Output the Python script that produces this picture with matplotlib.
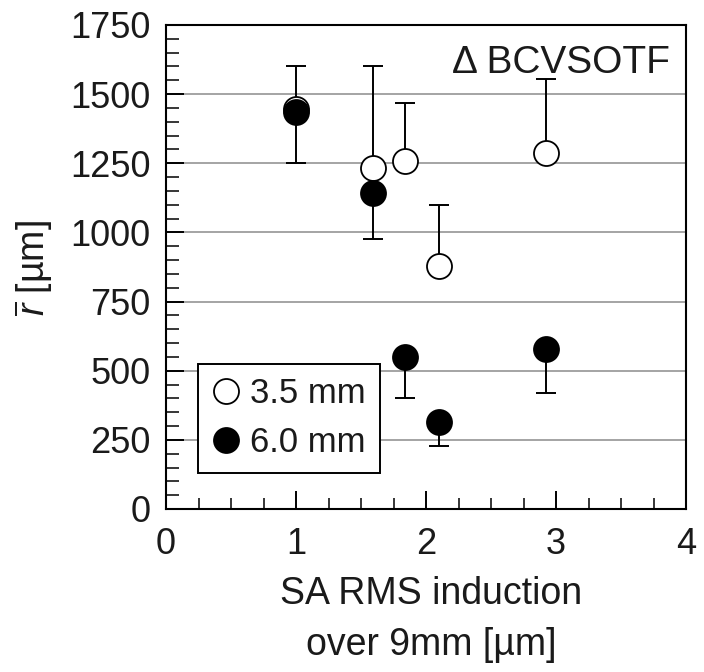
import matplotlib
matplotlib.use("Agg")
import matplotlib.pyplot as plt
from matplotlib.ticker import MultipleLocator

plt.rcParams['font.family'] = ['Liberation Sans', 'DejaVu Sans']
plt.rcParams['mathtext.fontset'] = 'custom'
plt.rcParams['mathtext.it'] = 'Liberation Sans:italic'
plt.rcParams['mathtext.rm'] = 'Liberation Sans'

# 3.5 mm pupil (open circles, error bars upward)
x_35 = [1.00, 1.59, 1.835, 2.10, 2.92]
y_35 = [1448, 1232, 1260, 880, 1286]
err_35 = [152, 368, 207, 219, 268]

# 6.0 mm pupil (filled circles, error bars downward)
x_60 = [1.00, 1.59, 1.835, 2.10, 2.92]
y_60 = [1435, 1141, 548, 314, 578]
err_60 = [185, 165, 145, 88, 158]

fig = plt.figure(figsize=(7.04, 6.72), dpi=100)
# axes box: x 166..686 px, y 25..509 px
ax = fig.add_axes([166 / 704, 1 - 509 / 672, 520 / 704, 484 / 672])

ax.yaxis.grid(True, color='#8c8c8c', linewidth=1.1)
ax.set_axisbelow(True)

ax.errorbar(x_35, y_35, yerr=[[0] * len(err_35), err_35], fmt='none',
            ecolor='black', elinewidth=1.4, capsize=7, capthick=1.4, zorder=2)
ax.errorbar(x_60, y_60, yerr=[err_60, [0] * len(err_60)], fmt='none',
            ecolor='black', elinewidth=1.4, capsize=7, capthick=1.4, zorder=2)

ax.plot(x_35, y_35, 'o', ms=18, mfc='white', mec='black', mew=1.3,
        linestyle='none', label='3.5 mm', zorder=3)
ax.plot(x_60, y_60, 'o', ms=18, mfc='black', mec='black', mew=1.3,
        linestyle='none', label='6.0 mm', zorder=4)

ax.set_xlim(0, 4)
ax.set_ylim(0, 1750)
ax.xaxis.set_major_locator(MultipleLocator(1))
ax.xaxis.set_minor_locator(MultipleLocator(0.25))
ax.yaxis.set_major_locator(MultipleLocator(250))
ax.yaxis.set_minor_locator(MultipleLocator(50))
ax.tick_params(which='major', direction='in', length=13, width=1.4,
               labelsize=26, labelcolor='#1a1a1a')
ax.tick_params(axis='x', which='major', pad=13)
ax.tick_params(axis='y', which='major', pad=11)
ax.tick_params(axis='x', which='minor', direction='in', length=8, width=1.1)
ax.tick_params(axis='y', which='minor', direction='in', length=9.5, width=1.1)
for s in ax.spines.values():
    s.set_linewidth(1.5)

ax.set_xlabel('SA RMS induction\nover 9mm [µm]', fontsize=27, labelpad=10,
              linespacing=1.55, color='#1a1a1a')
ax.xaxis.label.set_x(0.51)
fig.text(34 / 704, 1 - 268 / 672, r'$\overline{r}$ [µm]', fontsize=27,
         rotation=90, ha='center', va='center', color='#1a1a1a')

ax.text(0.969, 0.901, 'Δ BCVSOTF', transform=ax.transAxes, fontsize=28,
        ha='right', va='baseline', color='#1a1a1a')

leg = ax.legend(loc='lower left', bbox_to_anchor=(0.0615, 0.0744), fontsize=25,
                frameon=True, fancybox=False, handletextpad=0.3,
                borderpad=0.4, labelspacing=0.45, handlelength=0.8,
                borderaxespad=0, markerscale=1.0)
leg.get_frame().set_edgecolor('black')
leg.get_frame().set_linewidth(1.4)
leg.get_frame().set_alpha(1)
for t in leg.get_texts():
    t.set_color('#1a1a1a')

fig.savefig('out.png', dpi=100)
